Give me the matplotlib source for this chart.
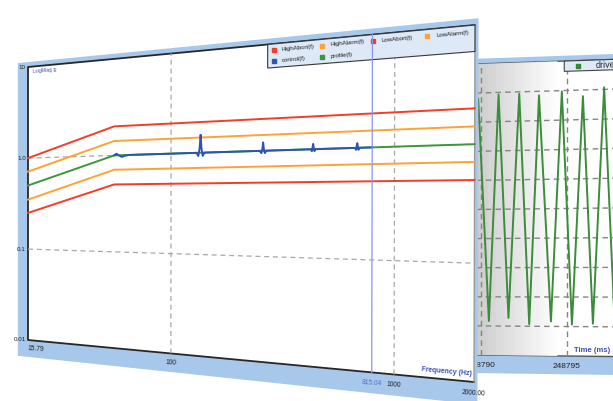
import numpy as np
import matplotlib
matplotlib.use('Agg')
import matplotlib.pyplot as plt
import matplotlib.transforms as mtransforms
from matplotlib.patches import Polygon

plt.rcParams['font.family'] = ['Liberation Sans', 'DejaVu Sans']

# ---- spectrum panel (log-log) ----
freq_pts = [15.79, 50, 2000]
profile = [0.5, 1.0, 1.0]
high_alarm = [0.71, 1.41, 1.41]
low_alarm = [0.35, 0.71, 0.71]
high_abort = [1.0, 2.0, 2.0]
low_abort = [0.25, 0.5, 0.5]

control_f = [50, 51.5, 53, 55, 57, 60,
             134, 137, 139, 140.6, 142, 144, 147,
             268, 273, 276, 278, 280, 283, 288,
             452, 457, 460, 463, 466, 469, 474,
             694, 701, 705, 709, 713, 717, 724,
             815.04]
control_v = [1.0, 1.04, 1.0, 0.96, 0.98, 1.0,
             1.0, 0.93, 1.1, 1.5, 1.1, 0.93, 1.0,
             1.0, 0.95, 1.05, 1.2, 1.05, 0.95, 1.0,
             1.0, 0.96, 1.03, 1.12, 1.03, 0.96, 1.0,
             1.0, 0.96, 1.03, 1.1, 1.03, 0.96, 1.0,
             1.0]
cursor_f = 815.04

freq_ticks = [15.79, 100, 815.04, 1000, 2000]
freq_labels = ['15.79', '100', '815.04', '1000', '2000.00']
mag_ticks = [10, 1, 0.1, 0.01]
mag_labels = ['10', '1.0', '0.1', '0.01']

legend_names = ['HighAbort(f)', 'HighAlarm(f)', 'LowAbort(f)', 'LowAlarm(f)',
                'control(f)', 'profile(f)']

# ---- drive time trace (peaks / troughs) ----
drive_t = [248789.83, 248790.46, 248791.03, 248791.61, 248792.24, 248792.82,
           248793.39, 248794.08, 248794.71, 248795.29, 248795.92, 248796.49,
           248797.13, 248797.72]
drive_v = [3.8, -3.83, 3.93, -3.72, 3.93, -3.93,
           3.86, -3.83, 3.97, -3.93, 3.79, -3.9,
           4.07, -3.8]
time_ticks = [248790, 248795]
time_labels = ['248790', '248795']
time_grid = [248790, 248795, 248800]

W, H = 613, 401
RED, ORANGE, GREEN, BLUE = '#f43d24', '#ffa234', '#3c973c', '#2f53b3'
FRAME = '#a7c8ea'


class Persp(mtransforms.Transform):
    """maps the (full figure) flat axes onto a quad given in image pixels"""
    input_dims = 2
    output_dims = 2

    def __init__(self, corners):
        super().__init__()
        src = [(0, 0), (1, 0), (1, 1), (0, 1)]
        A, b = [], []
        for (u, v), (x, y) in zip(src, corners):
            y = H - y
            A.append([u, v, 1, 0, 0, 0, -u * x, -v * x]); b.append(x)
            A.append([0, 0, 0, u, v, 1, -u * y, -v * y]); b.append(y)
        h = np.append(np.linalg.solve(np.array(A, float), np.array(b, float)), 1).reshape(3, 3)
        self.M = h @ np.diag([1 / W, 1 / H, 1])

    def transform_non_affine(self, values):
        v = np.asarray(values, float)
        nd = v.ndim
        v = v.reshape(-1, 2)
        p = np.column_stack([v, np.ones(len(v))]) @ self.M.T
        out = p[:, :2] / p[:, 2:]
        return out.reshape(-1) if nd == 1 else out


fig = plt.figure(figsize=(W / 100, H / 100), dpi=100)
axR = fig.add_axes([0, 0, 1, 1], zorder=1)
axL = fig.add_axes([0, 0, 1, 1], zorder=2)
for ax in (axR, axL):
    ax.set_axis_off()

# ================= right panel (drive) =================
PR = Persp([(476, 355), (655, 357), (655, 58), (476, 64)])
daR = axR.transData + PR
uaR = axR.transAxes + PR
xaR = axR.get_xaxis_transform() + PR
axR.set_xlim(248789.7, 248800)
axR.set_ylim(-5, 5)

axR.add_patch(Polygon([(-0.3, -0.062), (1.3, -0.062), (1.3, 1.018), (-0.3, 1.018)],
                      closed=True, transform=uaR, fc=FRAME, ec='none', zorder=0))
axR.add_patch(Polygon([(0, 0), (1.3, 0), (1.3, 1), (0, 1)], closed=True,
                      transform=uaR, fc='white', ec='#555555', lw=1.0, zorder=0.5))
n = 30
for i in range(n):
    g = 0.80 + 0.20 * i / n
    u0, u1 = 0.46 * i / n, 0.46 * (i + 1) / n + 0.002
    axR.add_patch(Polygon([(u0, 0), (u1, 0), (u1, 1), (u0, 1)], closed=True,
                          transform=uaR, fc=(g, g, g), ec='none', zorder=0.6))
for t in time_grid:
    axR.plot([t, t], [-5, 5], transform=daR, color='#858585', lw=1.0,
             ls=(0, (4, 3)), zorder=1, clip_on=False)
for yv in range(-4, 5):
    axR.plot([248789.7, 248800], [yv, yv], transform=daR, color='#858585', lw=1.0,
             ls=(0, (4, 3)), zorder=1, clip_on=False)
axR.plot(drive_t, drive_v, transform=daR, color='#3b8c3b', lw=1.4, zorder=2, clip_on=False)

axR.add_patch(Polygon([(0.50, 0.965), (1.3, 0.965), (1.3, 1.0), (0.50, 1.0)], closed=True,
                      transform=uaR, fc='#dde9f6', ec='#444444', lw=0.8, zorder=3))
axR.plot([0.578], [0.983], transform=uaR, marker='s', ms=3.5, color='#2f8a2f',
         ls='none', zorder=4, clip_on=False)
axR.text(0.672, 0.983, 'drive(t)', transform=uaR, fontsize=6.5,
         va='center', ha='left', rotation=2, rotation_mode='anchor', color='#222222')
for t, lab in zip(time_ticks, time_labels):
    axR.text(t, -0.035, lab, transform=xaR, fontsize=6,
             ha='center', va='center', color='#222222')
axR.text(0.555, 0.008, 'Time (ms)', transform=uaR, fontsize=5.5,
         weight='bold', color='#3a4fb0', ha='left', va='bottom')

# ================= left panel (spectrum) =================
PL = Persp([(28, 340), (474, 382), (475, 25), (28, 67)])
daL = axL.transData + PL
uaL = axL.transAxes + PL
xaL = axL.get_xaxis_transform() + PL
yaL = axL.get_yaxis_transform() + PL
axL.set_xscale('log')
axL.set_yscale('log')

frame = Polygon([(-0.03, -0.062), (1.006, -0.062), (1.006, 1.018), (-0.03, 1.018)],
                closed=True, transform=uaL, fc=FRAME, ec='none', zorder=0)
axL.add_patch(frame)
axL.add_patch(Polygon([(0, 0), (1, 0), (1, 1), (0, 1)], closed=True, transform=uaL,
                      fc='white', ec='none', zorder=0.5))
# plot border: dark on left / bottom / top, light on the right
axL.plot([1, 0, 0, 1], [1, 1, 0, 0], transform=uaL, color='#262626', lw=1.3,
         zorder=0.6, clip_on=False)
axL.plot([1, 1], [0, 1], transform=uaL, color='#9a9a9a', lw=1.0, zorder=0.6, clip_on=False)

for f in [100, 1000]:
    axL.plot([f, f], [0.01, 10], transform=daL, color='#a8a8a8', lw=0.9,
             ls=(0, (4, 3)), zorder=1, clip_on=False)
for m in [1, 0.1]:
    axL.plot([15.79, 2000], [m, m], transform=daL, color='#a8a8a8', lw=0.9,
             ls=(0, (4, 3)), zorder=1, clip_on=False)

for vals, col in [(high_abort, RED), (high_alarm, ORANGE), (profile, GREEN),
                  (low_alarm, ORANGE), (low_abort, RED)]:
    axL.plot(freq_pts, vals, transform=daL, color=col, lw=1.4, zorder=2, clip_on=False)
axL.plot(control_f, control_v, transform=daL, color=BLUE, lw=1.4, zorder=2.5, clip_on=False)

# legend strip at the top
axL.add_patch(Polygon([(0.602, 0.926), (1, 0.926), (1, 1), (0.602, 1)], closed=True,
                      transform=uaL, fc='#dde9f6', ec='#383838', lw=0.8, zorder=3))
leg_cols = [RED, ORANGE, RED, ORANGE, BLUE, GREEN]
leg_u = [0.615, 0.715, 0.815, 0.915, 0.615, 0.715]
leg_v = [0.981, 0.981, 0.981, 0.981, 0.945, 0.945]
for name, col, u, v in zip(legend_names, leg_cols, leg_u, leg_v):
    axL.plot([u], [v], transform=uaL, marker='s', ms=3, color=col, ls='none',
             zorder=4, clip_on=False)
    axL.text(u + 0.017, v, name, transform=uaL, fontsize=4.4, color='#1a1a1a',
             ha='left', va='center', rotation=5, rotation_mode='anchor', zorder=4)

axL.plot([cursor_f, cursor_f], [0.01, 10], transform=daL, color='#8a96ea', lw=0.9,
         zorder=5, clip_on=False)

for m, lab in zip(mag_ticks, mag_labels):
    axL.text(-0.006, m, lab, transform=yaL, fontsize=4.5, color='#222222',
             ha='right', va='center')
for f, lab in zip(freq_ticks, freq_labels):
    col = '#5a6cc8' if f == cursor_f else '#222222'
    ha = 'left' if f == freq_ticks[0] else 'center'
    t = axL.text(f, -0.032, lab, transform=xaL, fontsize=4.8, color=col,
                 ha=ha, va='center', rotation=-4, rotation_mode='anchor')
    t.set_clip_path(frame)
axL.text(0.995, 0.012, 'Frequency (Hz)', transform=uaL, fontsize=5, weight='bold',
         color='#3a4fb0', ha='right', va='bottom', rotation=-5, rotation_mode='anchor')
axL.text(0.012, 0.99, 'LogMag g', transform=uaL, fontsize=3.8, color='#3a4fb0',
         ha='left', va='top', rotation=5, rotation_mode='anchor')

axL.set_xlim(15.79, 2000)
axL.set_ylim(0.01, 10)

fig.savefig('out.png', dpi=100, facecolor='white')
